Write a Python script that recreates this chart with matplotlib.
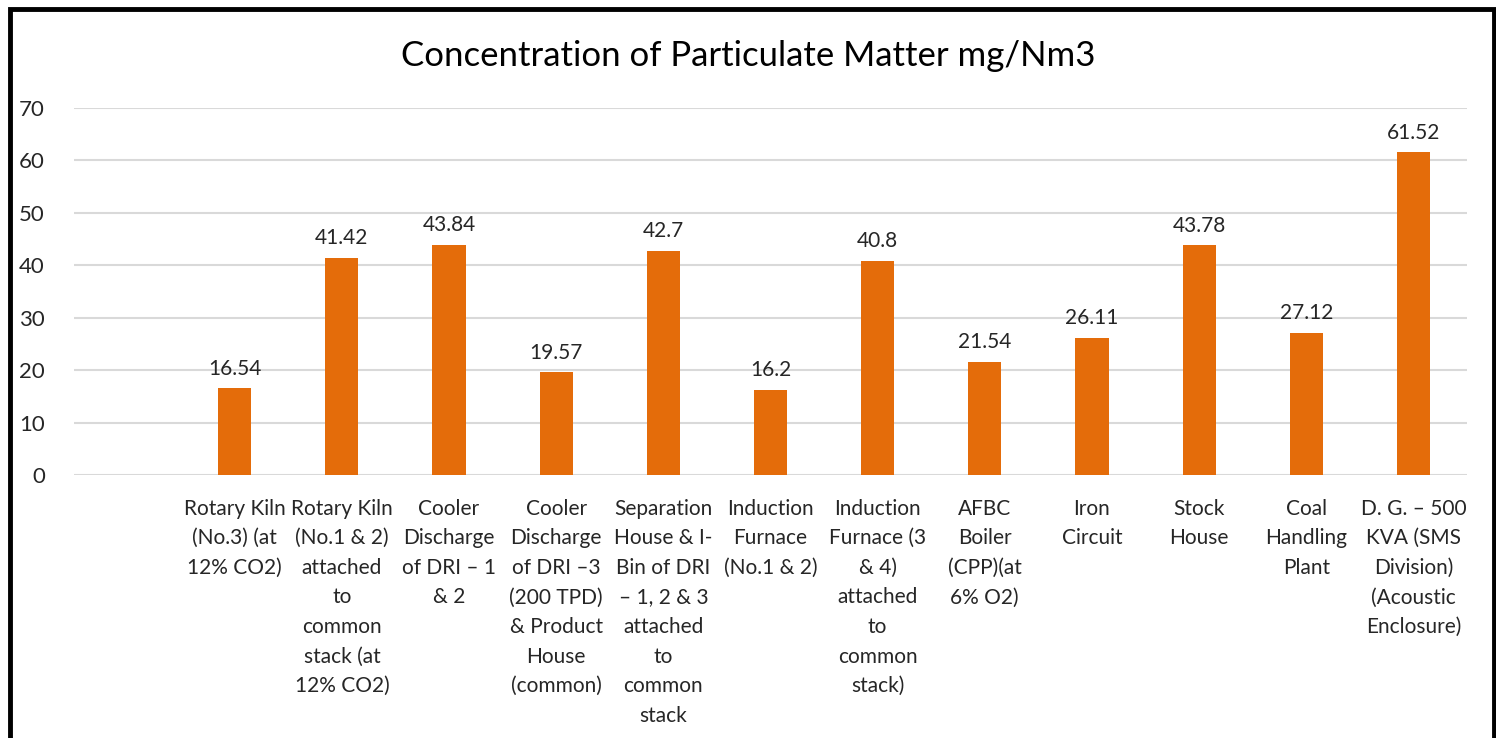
import numpy as np
import matplotlib.pyplot as plt
from matplotlib.patches import Rectangle

plt.rcParams['font.family'] = ['Lato', 'DejaVu Sans']

categories = [
    '',
    'Rotary Kiln\n(No.3) (at\n12% CO2)',
    'Rotary Kiln\n(No.1 & 2)\nattached\nto\ncommon\nstack (at\n12% CO2)',
    'Cooler\nDischarge\nof DRI \u2013 1\n& 2',
    'Cooler\nDischarge\nof DRI \u20133\n(200 TPD)\n& Product\nHouse\n(common)',
    'Separation\nHouse & I-\nBin of DRI\n\u2013 1, 2 & 3\nattached\nto\ncommon\nstack',
    'Induction\nFurnace\n(No.1 & 2)',
    'Induction\nFurnace (3\n& 4)\nattached\nto\ncommon\nstack)',
    'AFBC\nBoiler\n(CPP)(at\n6% O2)',
    'Iron\nCircuit',
    'Stock\nHouse',
    'Coal\nHandling\nPlant',
    'D. G. \u2013 500\nKVA (SMS\nDivision)\n(Acoustic\nEnclosure)',
]
values = [np.nan, 16.54, 41.42, 43.84, 19.57, 42.7, 16.2, 40.8, 21.54, 26.11, 43.78, 27.12, 61.52]
value_labels = ['', '16.54', '41.42', '43.84', '19.57', '42.7', '16.2', '40.8',
                '21.54', '26.11', '43.78', '27.12', '61.52']
yticks = [0, 10, 20, 30, 40, 50, 60, 70]


def run():
    fig = plt.figure(figsize=(14.96, 7.38), dpi=100)
    ax = fig.add_axes([74 / 1496, 1 - 475 / 738, 1393 / 1496, 367 / 738])

    x = np.arange(len(categories))
    ax.bar(x, values, width=0.31, color='#E46C0A', zorder=3)

    for xi, v, lab in zip(x, values, value_labels):
        if lab:
            ax.annotate(lab, (xi, v), xytext=(0, 7), textcoords='offset points',
                        ha='center', va='bottom', fontsize=15, color='#262626',
                        annotation_clip=False)

    ax.set_xlim(-0.5, len(categories) - 0.5)
    ax.set_ylim(0, 70)
    ax.set_yticks(yticks)
    ax.set_yticklabels([str(t) for t in yticks], fontsize=16, color='#262626')
    ax.set_xticks(x)
    ax.set_xticklabels(categories, fontsize=15, color='#262626', linespacing=1.6)
    ax.tick_params(axis='both', length=0)
    ax.tick_params(axis='y', pad=21)
    ax.tick_params(axis='x', pad=17)
    ax.grid(axis='y', color='#d9d9d9', linewidth=1.5, zorder=0)
    for s in ax.spines.values():
        s.set_visible(False)

    fig.text(0.5, 1 - 56 / 738, 'Concentration of Particulate Matter mg/Nm3',
             ha='center', va='center', fontsize=25, color='#000000')

    # black frame around the chart area
    fig.patches.append(Rectangle((10 / 1496, -0.05), 1484 / 1496, 0.05 + 1 - 9 / 738,
                                 transform=fig.transFigure, fill=False,
                                 edgecolor='black', linewidth=3.5))

    fig.savefig('out.png', dpi=100)


if __name__ == '__main__':
    run()
